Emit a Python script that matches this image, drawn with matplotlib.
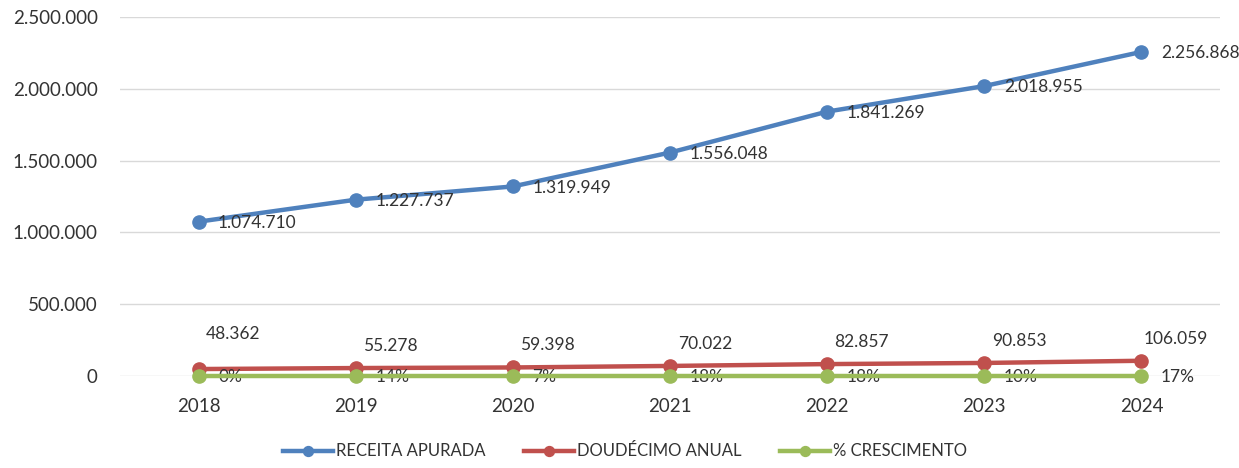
import matplotlib.pyplot as plt
from matplotlib.ticker import FuncFormatter

years = ['2018', '2019', '2020', '2021', '2022', '2023', '2024']
receita = [1074710, 1227737, 1319949, 1556048, 1841269, 2018955, 2256868]
doudecimo = [48362, 55278, 59398, 70022, 82857, 90853, 106059]
crescimento = [0.00, 0.14, 0.07, 0.18, 0.18, 0.10, 0.17]

plt.rcParams['font.family'] = ['Lato', 'DejaVu Sans']
txt = '#333333'


def br(v):
    return f"{v:,.0f}".replace(',', '.')


fig = plt.figure(figsize=(12.39, 4.68), dpi=100)
ax = fig.add_axes([0.0969, 0.1966, 0.8878, 0.7671])

x = range(len(years))
ax.plot(x, receita, color='#4F81BD', lw=3.2, marker='o', ms=9.5, label='RECEITA APURADA', zorder=3, clip_on=False)
ax.plot(x, doudecimo, color='#C0504D', lw=3.2, marker='o', ms=9.5, label='DOUDÉCIMO ANUAL', zorder=3, clip_on=False)
ax.plot(x, crescimento, color='#9BBB59', lw=3.2, marker='o', ms=9.5, label='% CRESCIMENTO', zorder=4, clip_on=False)

for i, v in enumerate(receita):
    ax.annotate(br(v), (i, v), xytext=(14, -1), textcoords='offset points',
                ha='left', va='center', fontsize=12.5, color=txt)
for i, v in enumerate(doudecimo):
    dy = 25 if i == 0 else 16
    ax.annotate(br(v), (i, v), xytext=(25, dy), textcoords='offset points',
                ha='center', va='center', fontsize=12.5, color=txt)
for i, v in enumerate(crescimento):
    ax.annotate(f"{v:.0%}", (i, v), xytext=(14, -1), textcoords='offset points',
                ha='left', va='center', fontsize=12.5, color=txt)

ax.set_xlim(-0.5, 6.5)
ax.set_ylim(0, 2500000)
ax.set_yticks(range(0, 2500001, 500000))
ax.yaxis.set_major_formatter(FuncFormatter(lambda v, p: br(v)))
ax.set_xticks(list(x))
ax.set_xticklabels(years)
ax.tick_params(axis='both', length=0, labelsize=13.5, colors=txt)
ax.tick_params(axis='x', pad=16)
ax.tick_params(axis='y', pad=16)
ax.grid(axis='y', color='#D9D9D9', lw=1)
ax.set_axisbelow(True)
for s in ax.spines.values():
    s.set_visible(False)

ax.legend(loc='center', bbox_to_anchor=(0.459, -0.21), ncol=3, frameon=False,
          fontsize=12, handlelength=3.0, handletextpad=0.2, columnspacing=2.3,
          markerscale=0.75, labelcolor=txt)

fig.savefig('out.png', dpi=100)
